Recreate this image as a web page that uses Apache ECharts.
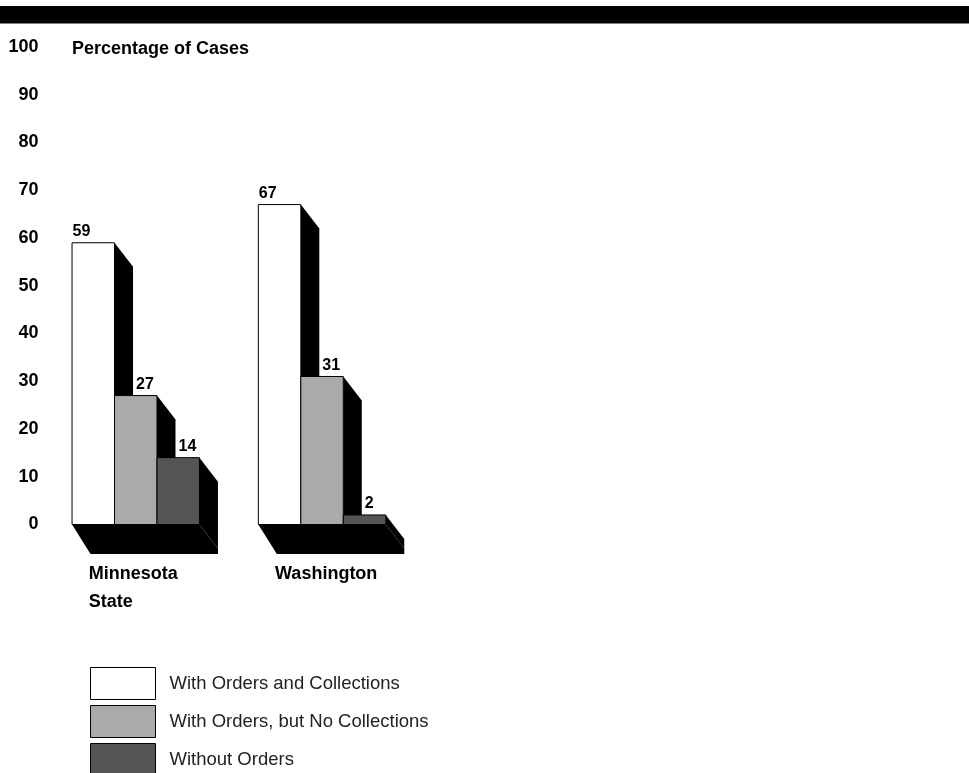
<!DOCTYPE html>
<html>
<head>
<meta charset="utf-8">
<script src="https://cdn.jsdelivr.net/npm/echarts@6/dist/echarts.min.js"></script>
<style>
  html, body { margin: 0; padding: 0; background: #fff; }
  #chart { width: 969px; height: 773px; }
</style>
</head>
<body>
<div id="chart"></div>
<script>
// Case outcomes by state, percentage of cases
const categories = ['Minnesota\nState', 'Washington'];
const seriesNames = [
  'With Orders and Collections',
  'With Orders, but No Collections',
  'Without Orders'
];
const withOrdersAndCollections = [59, 67];
const withOrdersNoCollections = [27, 31];
const withoutOrders = [14, 2];
const seriesValues = [withOrdersAndCollections, withOrdersNoCollections, withoutOrders];
const seriesColors = ['#ffffff', '#aaaaaa', '#555555'];
const yMin = 0, yMax = 100, yStep = 10;

const FONT = '"Liberation Sans", Arial, Helvetica, sans-serif';
const DEPTH_X = 18.5;   // extrusion of the bar sides
const DEPTH_Y = 24;
const FLOOR_Y = 29.5;   // drop of the floor slab
const BAR_FRACTION = 0.228;

function barGeometry(api, cat, value, idx) {
  const base = api.coord([cat, 0]);
  const top = api.coord([cat, value]);
  const band = api.size([1, 0])[0];
  const w = band * BAR_FRACTION;
  const left = base[0] - 1.5 * w + idx * w;
  return { left, w, y0: base[1], yTop: top[1] };
}

function makeBarSeries(idx) {
  return {
    type: 'custom',
    name: seriesNames[idx],
    itemStyle: { color: seriesColors[idx], borderColor: '#000', borderWidth: 1 },
    clip: false,
    data: categories.map((c, i) => [i, seriesValues[idx][i]]),
    renderItem: function (params, api) {
      const cat = api.value(0), v = api.value(1);
      const g = barGeometry(api, cat, v, idx);
      const right = g.left + g.w;
      const labelX = idx === 0 ? g.left + 0.5 : g.left + DEPTH_X + 3;
      return {
        type: 'group',
        children: [
          {
            type: 'polygon',
            shape: { points: [
              [right, g.yTop], [right + DEPTH_X, g.yTop + DEPTH_Y],
              [right + DEPTH_X, g.y0 + DEPTH_Y], [right, g.y0]
            ] },
            style: { fill: '#000' }
          },
          {
            type: 'rect',
            shape: { x: g.left, y: g.yTop, width: g.w, height: g.y0 - g.yTop },
            style: { fill: seriesColors[idx], stroke: '#000', lineWidth: 1 }
          },
          {
            type: 'text',
            x: labelX, y: g.yTop - 11,
            style: {
              text: String(v), fill: '#000', font: 'bold 16px ' + FONT,
              textAlign: 'left', textVerticalAlign: 'middle'
            }
          }
        ]
      };
    }
  };
}

const floorSeries = {
  type: 'custom',
  name: 'floor',
  silent: true,
  clip: false,
  data: categories.map((c, i) => [i, 0]),
  renderItem: function (params, api) {
    const cat = api.value(0);
    const first = barGeometry(api, cat, 0, 0);
    const last = barGeometry(api, cat, 0, 2);
    const l = first.left, r = last.left + last.w, y0 = first.y0;
    return {
      type: 'polygon',
      shape: { points: [
        [l, y0], [r, y0], [r + DEPTH_X, y0 + DEPTH_Y],
        [r + DEPTH_X, y0 + FLOOR_Y], [l + DEPTH_X, y0 + FLOOR_Y]
      ] },
      style: { fill: '#000' }
    };
  }
};

const chart = echarts.init(document.getElementById('chart'), null, { renderer: 'canvas' });
chart.setOption({
  backgroundColor: '#fff',
  animation: false,
  title: {
    text: 'Percentage of Cases',
    left: 67, top: 35,
    textStyle: { fontFamily: FONT, fontSize: 18, fontWeight: 'bold', color: '#000' }
  },
  graphic: [
    { type: 'rect', left: 0, top: 6, shape: { width: 969, height: 17.5 }, style: { fill: '#000' } }
  ],
  legend: {
    orient: 'vertical',
    left: 90, top: 667,
    width: 500, height: 200,
    padding: 0,
    itemWidth: 65, itemHeight: 32, itemGap: 5,
    icon: 'rect',
    data: seriesNames.map((n, i) => ({
      name: n,
      itemStyle: { color: seriesColors[i], borderColor: '#000', borderWidth: 1 }
    })),
    textStyle: { fontFamily: FONT, fontSize: 18.5, color: '#222', padding: [0, 0, 0, 9] },
    selectedMode: false
  },
  grid: { left: 42.6, width: 372.6, top: 47, height: 477.5, containLabel: false },
  xAxis: {
    type: 'category',
    data: categories,
    axisLine: { show: false },
    axisTick: { show: false },
    axisLabel: {
      margin: 36,
      align: 'center',
      formatter: v => v.split('\n').map(s => '{a|' + s + '}').join('\n'),
      rich: {
        a: { width: 94, align: 'left', fontFamily: FONT, fontSize: 18, fontWeight: 'bold', color: '#000', lineHeight: 28 }
      }
    }
  },
  yAxis: {
    type: 'value',
    min: yMin, max: yMax, interval: yStep,
    axisLine: { show: false },
    axisTick: { show: false },
    splitLine: { show: false },
    axisLabel: { margin: 4, fontFamily: FONT, fontSize: 18, fontWeight: 'bold', color: '#000' }
  },
  series: [floorSeries, makeBarSeries(0), makeBarSeries(1), makeBarSeries(2)]
});
</script>
</body>
</html>
